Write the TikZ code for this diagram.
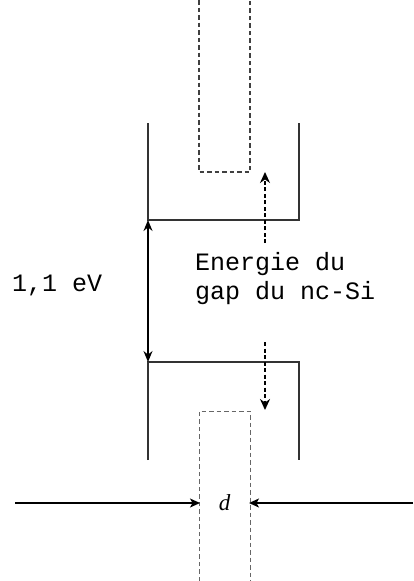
\documentclass[tikz,border=0pt]{standalone}
\usepackage{fontspec}
\newfontfamily\monof{Liberation Mono}
\newfontfamily\serifit{Liberation Serif}
\usetikzlibrary{arrows.meta}
\begin{document}
\begin{tikzpicture}[x=1pt,y=-1pt,
  wall/.style={line width=1.3pt,draw=black!80},
  dbox/.style={line width=1.1pt,draw=black!75,dash pattern=on 4.5pt off 3pt},
  dboxl/.style={line width=1pt,draw=black!60,dash pattern=on 4.5pt off 3pt},
  trans/.style={line width=1.8pt,dash pattern=on 4pt off 2.5pt,-{Stealth[length=11pt,width=10pt]}},
  garrow/.style={line width=1.4pt,{Stealth[length=11pt,width=9pt]}-{Stealth[length=11pt,width=9pt]}},
  darrow/.style={line width=1.3pt,-{Stealth[length=10pt,width=9pt,inset=2.5pt]}},
  lbl/.style={font=\monof\fontsize{25}{29}\selectfont,inner sep=0pt,align=left}]
\useasboundingbox (0,0) rectangle (414,581);
% upper well
\coordinate (ul) at (148,123);
\coordinate (ulb) at (148,220);
\coordinate (urb) at (299,220);
\coordinate (ur) at (299,123);
\draw[wall] (ul) -- (ulb) -- (urb) -- (ur);
% upper dashed box
\coordinate (ubl) at (199,0);
\coordinate (ubl2) at (199,172);
\coordinate (ubr2) at (250,172);
\coordinate (ubr) at (250,0);
\draw[dbox] (ubl) -- (ubl2) -- (ubr2) -- (ubr);
% lower well
\coordinate (ll) at (148,460);
\coordinate (llt) at (148,362);
\coordinate (lrt) at (299,362);
\coordinate (lr) at (299,460);
\draw[wall] (ll) -- (llt) -- (lrt) -- (lr);
% lower dashed box
\coordinate (lbl) at (199,581);
\coordinate (lbl2) at (199,411);
\coordinate (lbr2) at (250,411);
\coordinate (lbr) at (250,581);
\draw[dboxl] (lbl) -- (lbl2) -- (lbr2) -- (lbr);
% transitions
\coordinate (t1s) at (265,243);
\coordinate (t1e) at (265,172);
\draw[trans] (t1s) -- (t1e);
\coordinate (t2s) at (265,342);
\coordinate (t2e) at (265,410);
\draw[trans] (t2s) -- (t2e);
% gap arrow
\draw[garrow] (ulb) -- (llt);
% labels
\node[lbl,anchor=west] (ev) at (12,285) {1,1 eV};
\node[lbl,anchor=north west] (eg) at (195,252) {Energie du\\gap du nc-Si};
% d arrows
\node[inner sep=0pt] (d) at (224.5,503) {\fontsize{23}{27}\selectfont\serifit\itshape d};
\coordinate (al) at (15,503);
\coordinate (ar) at (413,503);
\coordinate (alt) at (200,503);
\coordinate (art) at (249,503);
\draw[darrow] (al) -- (alt);
\draw[darrow] (ar) -- (art);
\end{tikzpicture}
\end{document}
